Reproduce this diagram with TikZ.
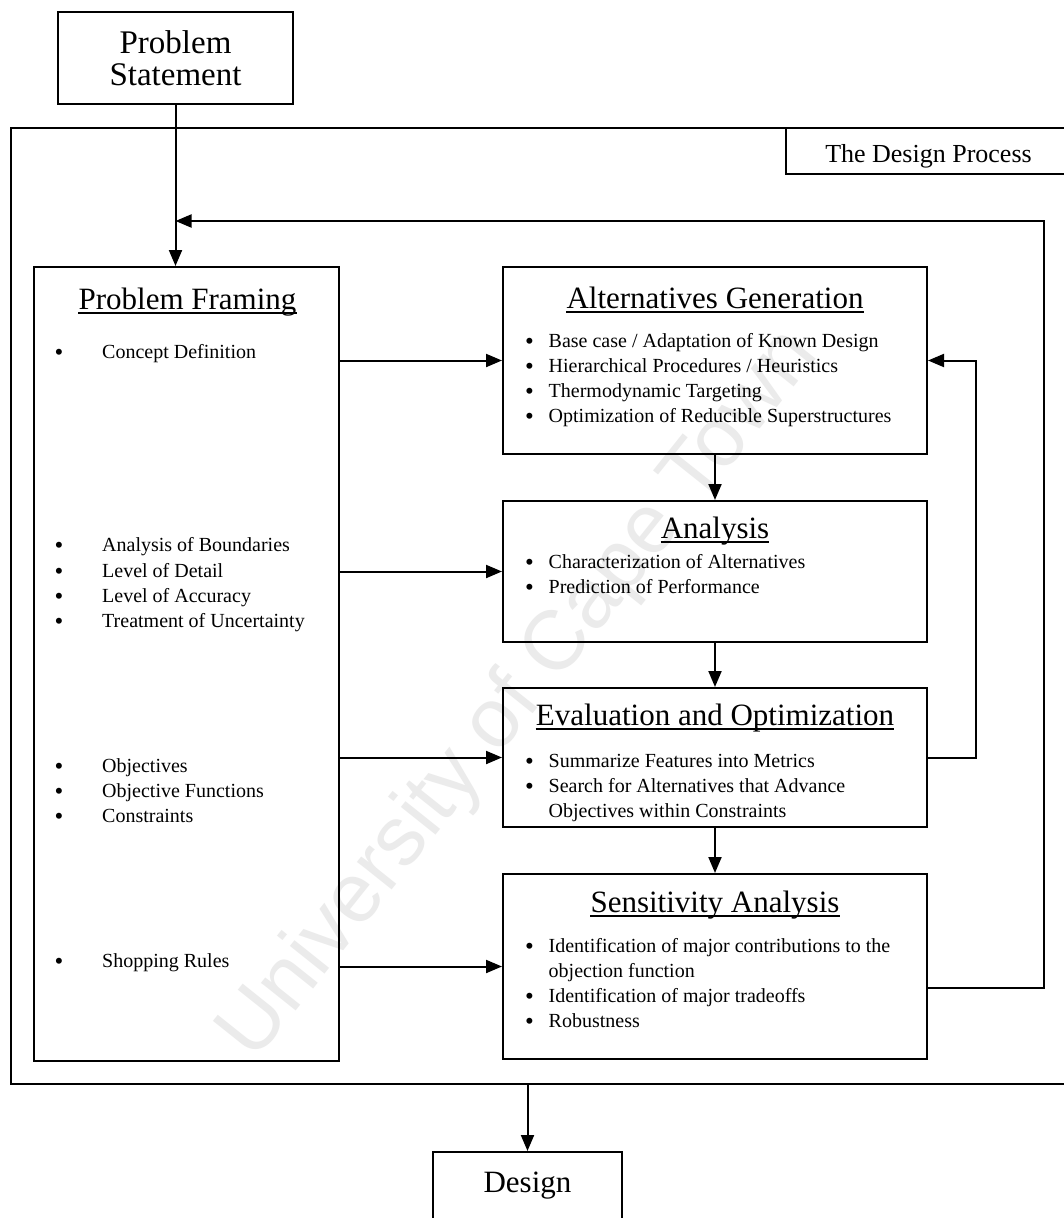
\documentclass[tikz,border=0pt]{standalone}
\usepackage{fontspec}
\setmainfont{Liberation Serif}
\newfontfamily\wmfont{Liberation Sans}
\usetikzlibrary{arrows.meta}

\tikzset{
  frame/.style={draw, line width=2pt, inner sep=0pt},
  link/.style={line width=2pt, -{Triangle[length=16pt,width=13pt]}},
  bodytext/.style={anchor=base west, inner sep=0pt, font=\fontsize{20}{25}\selectfont},
  headtext/.style={anchor=base, inner sep=0pt, font=\fontsize{31}{31}\selectfont},
  uline/.style={line width=1.5pt},
}
\newcommand{\dotmark}{\raisebox{-2.5pt}{\fontsize{25}{25}\selectfont\textbullet}}
\newcommand{\lbul}{\makebox[47.5pt][l]{\dotmark}}
\newcommand{\rbul}{\makebox[23.5pt][l]{\dotmark}}
\newcommand{\rgap}{\hspace*{23.5pt}}

\begin{document}
\begin{tikzpicture}[x=1pt,y=-1pt]
\fill[white] (0,0) rectangle (1063,1218);
\useasboundingbox (0,0) rectangle (1063,1218);

% faint watermark behind everything
\node[rotate=51.4, text=black!8, font=\wmfont\fontsize{84}{84}\selectfont] (wm) at (520,695) {University of Cape Town};

% outer frame and its tab
\node[frame, minimum width=1065pt, minimum height=956pt, anchor=north west] (dp) at (10,127) {};
\node[frame, minimum width=290pt, minimum height=46pt, anchor=north west] (dpl) at (785,127) {};
\node[anchor=base, inner sep=0pt, font=\fontsize{26}{26}\selectfont] (dplt) at (928.5,162) {The Design Process};

% start and end boxes
\node[frame, minimum width=235pt, minimum height=92pt, align=center, font=\fontsize{33}{32}\selectfont] (ps) at (175.5,58) {Problem\\Statement};
\node[frame, minimum width=189pt, minimum height=90pt, anchor=north] (dz) at (527.5,1151) {};
\node[anchor=base, inner sep=0pt, font=\fontsize{31}{31}\selectfont] (dzt) at (527.5,1192) {Design};

% main boxes
\node[frame, minimum width=305pt, minimum height=794pt] (pf) at (186.5,664) {};
\node[frame, minimum width=424pt, minimum height=187pt] (ag) at (715,360.5) {};
\node[frame, minimum width=424pt, minimum height=141pt] (an) at (715,571.5) {};
\node[frame, minimum width=424pt, minimum height=139pt] (ev) at (715,757.5) {};
\node[frame, minimum width=424pt, minimum height=185pt] (sa) at (715,966.5) {};

% headings
\node[headtext] (pft) at (187.5,309) {Problem Framing};
\node[headtext] (agt) at (715,308) {Alternatives Generation};
\node[headtext] (ant) at (715,538) {Analysis};
\node[headtext] (evt) at (715,725) {Evaluation and Optimization};
\node[headtext] (sat) at (715,912) {Sensitivity Analysis};
\foreach \h in {pft,agt,ant,evt,sat}
  \draw[uline] ([yshift=-4pt]\h.base west) -- ([yshift=-4pt]\h.base east);

% problem framing items
\node[bodytext] (l1) at (54.5,358) {\lbul Concept Definition};
\node[bodytext] (l2) at (54.5,551) {\lbul Analysis of Boundaries};
\node[bodytext] (l3) at (54.5,577) {\lbul Level of Detail};
\node[bodytext] (l4) at (54.5,602) {\lbul Level of Accuracy};
\node[bodytext] (l5) at (54.5,627) {\lbul Treatment of Uncertainty};
\node[bodytext] (l6) at (54.5,772) {\lbul Objectives};
\node[bodytext] (l7) at (54.5,797) {\lbul Objective Functions};
\node[bodytext] (l8) at (54.5,822) {\lbul Constraints};
\node[bodytext] (l9) at (54.5,967) {\lbul Shopping Rules};

% right column items
\node[bodytext] (r1) at (525,347) {\rbul Base case / Adaptation of Known Design};
\node[bodytext] (r2) at (525,372) {\rbul Hierarchical Procedures / Heuristics};
\node[bodytext] (r3) at (525,397) {\rbul Thermodynamic Targeting};
\node[bodytext] (r4) at (525,422) {\rbul Optimization of Reducible Superstructures};
\node[bodytext] (r5) at (525,568) {\rbul Characterization of Alternatives};
\node[bodytext] (r6) at (525,593) {\rbul Prediction of Performance};
\node[bodytext] (r7) at (525,767) {\rbul Summarize Features into Metrics};
\node[bodytext] (r8) at (525,792) {\rbul Search for Alternatives that Advance};
\node[bodytext] (r9) at (525,817) {\rgap Objectives within Constraints};
\node[bodytext] (r10) at (525,952) {\rbul Identification of major contributions to the};
\node[bodytext] (r11) at (525,977) {\rgap objection function};
\node[bodytext] (r12) at (525,1002) {\rbul Identification of major tradeoffs};
\node[bodytext] (r13) at (525,1027) {\rbul Robustness};

% connectors
\coordinate (fb) at (1044,221);
\draw[link] (ps.south) -- (ps.south |- pf.north);
\draw[link] (pf.east |- ag.west) -- (ag.west);
\draw[link] (pf.east |- an.west) -- (an.west);
\draw[link] (pf.east |- ev.west) -- (ev.west);
\draw[link] (pf.east |- sa.west) -- (sa.west);
\draw[link] (ag.south) -- (an.north);
\draw[link] (an.south) -- (ev.north);
\draw[link] (ev.south) -- (sa.north);
\draw[link] (ev.east) -- ++(48,0) |- (ag.east);
\draw[link] ([yshift=-21.5pt]sa.east) -| (fb) -- (ps.south |- fb);
\draw[link] (dz.north |- dp.south) -- (dz.north);
\end{tikzpicture}
\end{document}
